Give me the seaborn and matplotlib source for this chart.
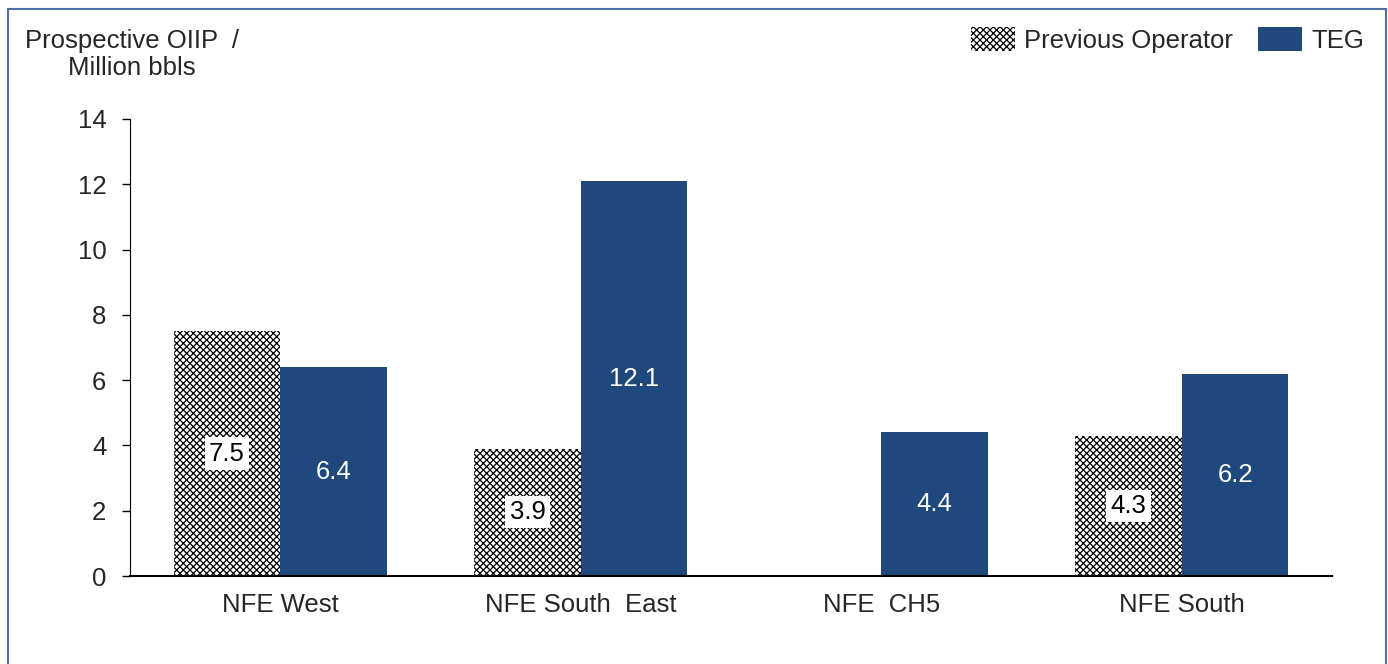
import pandas as pd
import matplotlib
matplotlib.use('Agg')
import matplotlib.pyplot as plt
import seaborn as sns
from matplotlib.patches import Rectangle, Patch

prospects = ['NFE West', 'NFE South  East', 'NFE  CH5', 'NFE South']
previous_operator = [7.5, 3.9, None, 4.3]
teg = [6.4, 12.1, 4.4, 6.2]
y_ticks = [0, 2, 4, 6, 8, 10, 12, 14]

df = pd.DataFrame({'prospect': prospects * 2,
                   'oiip': previous_operator + teg,
                   'source': ['Previous Operator'] * 4 + ['TEG'] * 4})

sns.set_style('white')
plt.rcParams['font.family'] = ['Liberation Sans', 'DejaVu Sans']
plt.rcParams['hatch.linewidth'] = 0.9
blue = '#1F497D'
checker = 'xxxxx'
fs = 18.5

fig = plt.figure(figsize=(13.88, 6.64), dpi=100)
ax = fig.add_axes([0.0937, 0.1325, 0.866, 0.6883])

sns.barplot(data=df, x='prospect', y='oiip', hue='source', order=prospects,
            palette={'Previous Operator': 'white', 'TEG': blue},
            width=0.71, saturation=1, legend=False, ax=ax)

# checkerboard-ish fill for previous operator bars
for bar in ax.containers[0]:
    bar.set_hatch(checker)
    bar.set_edgecolor('black')
    bar.set_linewidth(0)
for bar in ax.containers[1]:
    bar.set_edgecolor('none')

ax.bar_label(ax.containers[0], fmt='%.1f', label_type='center', fontsize=fs,
             color='black', bbox=dict(facecolor='white', edgecolor='none', pad=3))
ax.bar_label(ax.containers[1], fmt='%.1f', label_type='center', fontsize=fs,
             color='white')

ax.set_ylim(0, 14)
ax.set_yticks(y_ticks)
ax.set_xlim(-0.5, 3.5)
ax.tick_params(axis='y', length=6, width=1, direction='out', left=True,
               labelsize=fs, pad=11, color='black')
ax.tick_params(axis='x', length=0, labelsize=fs, pad=12)
ax.set_xlabel('')
ax.set_ylabel('')
for s in ['top', 'right']:
    ax.spines[s].set_visible(False)
ax.spines['left'].set_color('black')
ax.spines['bottom'].set_color('black')
ax.spines['bottom'].set_linewidth(1.5)

fig.text(0.095, 0.918, 'Prospective OIIP  /\nMillion bbls', ha='center', va='center',
         fontsize=fs, linespacing=1.2)

handles = [Patch(facecolor='white', edgecolor='black', hatch=checker, linewidth=0),
           Patch(facecolor=blue, edgecolor='none')]
fig.legend(handles, ['Previous Operator', 'TEG'], loc='center right',
           bbox_to_anchor=(0.99, 0.94), ncol=2, frameon=False, fontsize=fs,
           handlelength=1.7, handleheight=1.1, columnspacing=1.0, handletextpad=0.35,
           borderaxespad=0)

fig.patches.append(Rectangle((0.0058, -0.05), 0.9928, 1.0364, transform=fig.transFigure,
                             fill=False, edgecolor='#4F6FA0', linewidth=1.5))

fig.savefig('out.png', dpi=100)
